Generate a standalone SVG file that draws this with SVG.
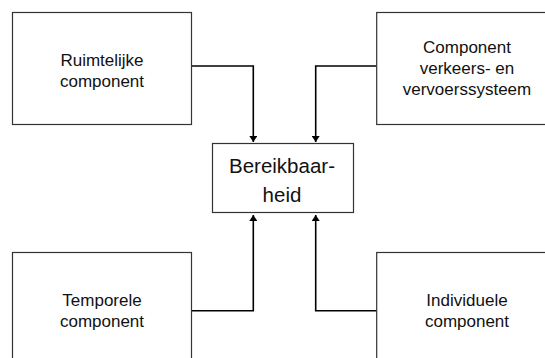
<svg xmlns="http://www.w3.org/2000/svg" width="545" height="358" viewBox="0 0 545 358">
<style>
.box{fill:#fff;stroke:#333;stroke-width:1.2}
.t{font-family:"Liberation Sans",Arial,sans-serif;font-size:17px;fill:#111;text-anchor:middle}
.tc{font-family:"Liberation Sans",Arial,sans-serif;font-size:20.5px;fill:#111;text-anchor:middle}
.c{fill:none;stroke:#000;stroke-width:1.6}
</style>
<defs>
<marker id="ah" viewBox="0 0 6 8" refX="6" refY="4" markerWidth="6" markerHeight="8" markerUnits="userSpaceOnUse" orient="auto">
<path d="M0,0 L6,4 L0,8 Z" fill="#000"/>
</marker>
</defs>
<g id="connectors">
<path class="c" d="M191.7,66 H253.3 V142" marker-end="url(#ah)"/>
<path class="c" d="M376.7,66 H315.7 V142" marker-end="url(#ah)"/>
<path class="c" d="M191.7,310.7 H253.3 V215" marker-end="url(#ah)"/>
<path class="c" d="M376.7,310.7 H315.7 V215" marker-end="url(#ah)"/>
</g>
<g id="ruimtelijke">
<rect class="box" x="12.5" y="12.5" width="179" height="112"/>
<text class="t" x="102" y="66">Ruimtelijke</text>
<text class="t" x="102" y="86.5">component</text>
</g>
<g id="verkeer">
<rect class="box" x="376.7" y="12.5" width="179" height="112"/>
<text class="t" x="467" y="53">Component</text>
<text class="t" x="467" y="74">verkeers- en</text>
<text class="t" x="467" y="95">vervoerssysteem</text>
</g>
<g id="bereikbaarheid">
<rect class="box" x="212.5" y="143.5" width="141" height="69"/>
<text class="tc" x="282" y="173">Bereikbaar-</text>
<text class="tc" x="282" y="201.5">heid</text>
</g>
<g id="temporele">
<rect class="box" x="12.5" y="252.5" width="179" height="112"/>
<text class="t" x="102" y="305.5">Temporele</text>
<text class="t" x="102" y="327">component</text>
</g>
<g id="individuele">
<rect class="box" x="376.7" y="252.5" width="179" height="112"/>
<text class="t" x="467" y="305.5">Individuele</text>
<text class="t" x="467" y="327">component</text>
</g>
</svg>
